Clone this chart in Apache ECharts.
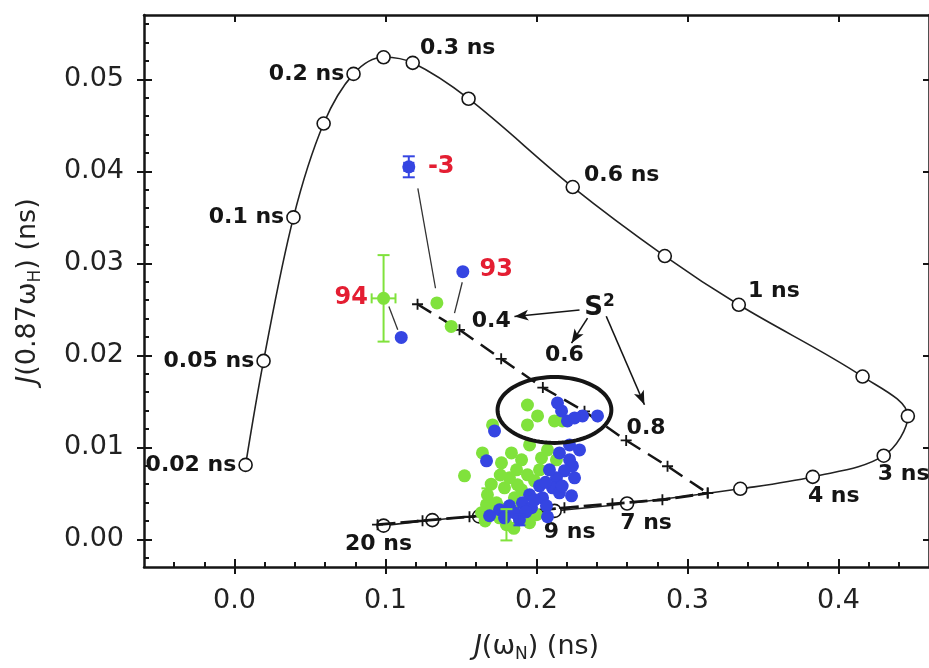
<!DOCTYPE html>
<html><head><meta charset="utf-8">
<script src="https://cdn.jsdelivr.net/npm/echarts@6/dist/echarts.min.js"></script>
<style>html,body{margin:0;padding:0;background:#fff}#c{width:929px;height:668px}</style>
</head><body><div id="c"></div>
<script>
// ---------- axis ticks ----------
const xMajorTicks = [0, 0.1, 0.2, 0.3, 0.4];
const xMinorTicks = [-0.04,-0.02,0.02,0.04,0.06,0.08,0.12,0.14,0.16,0.18,0.22,0.24,0.26,0.28,0.32,0.34,0.36,0.38,0.42,0.44];
const yMajorTicks = [0, 0.01, 0.02, 0.03, 0.04, 0.05];
const yMinorTicks = [-0.002,0.002,0.004,0.006,0.008,0.012,0.014,0.016,0.018,0.022,0.024,0.026,0.028,0.032,0.034,0.036,0.038,0.042,0.044,0.046,0.048,0.052,0.054,0.056];

// ---------- spectral density curve (rigid rotor, tau_c) ----------
const curvePts = [[0.0073,0.0081],[0.0192,0.0194],[0.0390,0.0350],[0.0590,0.0452],[0.0788,0.0506],[0.0987,0.0524],[0.1180,0.0518],[0.1550,0.0479],[0.2240,0.0383],[0.2850,0.0308],[0.3340,0.0255],[0.4160,0.0177],[0.4460,0.0134],[0.4300,0.0091],[0.3830,0.0068],[0.3350,0.0055],[0.2600,0.0039],[0.2120,0.0031],[0.1620,0.0025],[0.1310,0.0021],[0.0987,0.0015]];
const curveLabels = ['0.02 ns','0.05 ns','0.1 ns','','0.2 ns','','0.3 ns','','0.6 ns','','1 ns','','','3 ns','4 ns','','7 ns','9 ns','','','20 ns'];

// ---------- S2 lines ----------
const s2Pts = [[0.1212,0.02556],[0.1490,0.02278],[0.1766,0.01963],[0.2042,0.01650],[0.2318,0.01392],[0.2594,0.01076],[0.2868,0.00795],[0.3134,0.00503]];
const bottomPts = [[0.0947,0.00160],[0.1245,0.00203],[0.1556,0.00246],[0.1874,0.00300],[0.2185,0.00343],[0.2503,0.00387],[0.2834,0.00431],[0.3134,0.00503]];

// ---------- residues ----------
const greenPts = [[0.1340,0.0257],[0.1435,0.02315],[0.0987,0.0262],
 [0.1940,0.01461],[0.2007,0.01342],[0.1940,0.01244],[0.2119,0.01288],[0.1709,0.01244],[0.1954,0.01027],[0.1642,0.00940],[0.1523,0.00691],[0.1768,0.00832],[0.1901,0.00865],[0.2033,0.00886],[0.2132,0.00865],[0.1868,0.00756],[0.1940,0.00702],[0.1874,0.00594],[0.1987,0.00637],[0.1788,0.00561],[0.1675,0.00485],[0.1669,0.00377],[0.1636,0.00290],[0.1735,0.00398],[0.1854,0.00452],[0.1801,0.00159],[0.1954,0.00181],[0.1755,0.00235],[0.2172,0.01288],[0.1821,0.00669],[0.1901,0.00539],[0.2020,0.00756],[0.1834,0.00940],[0.1755,0.00344],[0.1702,0.00322],[0.1887,0.00322],[0.2000,0.00268],[0.2073,0.00973],
 [0.1700,0.00600],[0.1760,0.00700],[0.1660,0.00200],[0.1850,0.00120]];
const bluePts = [[0.1154,0.0405],[0.1104,0.02195],[0.1512,0.0291],
 [0.1722,0.01179],[0.1669,0.00854],[0.2219,0.00865],[0.2219,0.01027],[0.2238,0.00799],[0.2185,0.00745],[0.2132,0.00669],[0.2086,0.00756],[0.2020,0.00582],[0.2106,0.00561],[0.2040,0.00452],[0.1954,0.00485],[0.1907,0.00398],[0.1821,0.00365],[0.1755,0.00322],[0.1967,0.00344],[0.2066,0.00365],[0.2232,0.00474],[0.1887,0.00213],[0.2139,0.01483],[0.2166,0.01396],[0.2205,0.01288],[0.2305,0.01342],[0.2404,0.01342],[0.2252,0.01320],[0.2152,0.00940],[0.2252,0.00669],[0.2152,0.00506],[0.1854,0.00290],[0.1689,0.00257],[0.1987,0.00430],[0.2285,0.00973],[0.2073,0.00246],[0.1788,0.00235],
 [0.2060,0.00620],[0.2170,0.00580],[0.1930,0.00300]];
// [x, y, xErr, yErr]
const greenErr = [[0.0987,0.0262,0.0079,0.0047],[0.1801,0.00159,0,0.0017],[0.1675,0.00485,0,0.0007]];
const blueErr = [[0.1154,0.0405,0.003,0.00114],[0.1887,0.00213,0,0.0006]];
// pairs linking residues
const connectors = [[[0.1214,0.03815],[0.1331,0.02730]],[[0.1508,0.02795],[0.1457,0.02459]],[[0.1022,0.02531],[0.1081,0.02278]]];

// ---------- annotations ----------
const redLabels = [['-3',0.1369,0.0405],['94',0.0773,0.02622],['93',0.1733,0.02928]];
const s2Labels = [['S{sup|2}',0.2417,0.02511],['0.4',0.1700,0.02369],['0.6',0.2185,0.02003],['0.8',0.2726,0.01211]];
const arrows = [[[0.2285,0.02494],[0.1854,0.02422]],[[0.2338,0.02405],[0.2232,0.02133]],[[0.2462,0.02426],[0.2715,0.01464]]];
const ellipse = [[0.2119,0.01407,0.0377,0.00358]];

// ---------- styling ----------
const FONT = 'DejaVu Sans';
const INK = '#151515';
const GREEN = '#80E23C', BLUE = '#3545E2', RED = '#E41E32';
const X_MIN = -0.06, X_MAX = 0.46, Y_MIN = -0.003, Y_MAX = 0.057;
const curveLabelPlace = {
  '0.02 ns':{position:'left',distance:2,offset:[0,0]},
  '0.05 ns':{position:'left',distance:2,offset:[0,0]},
  '0.1 ns':{position:'left',distance:2,offset:[0,0]},
  '0.2 ns':{position:'left',distance:2,offset:[0,0]},
  '0.3 ns':{position:'right',distance:0,offset:[0,-15]},
  '0.6 ns':{position:'right',distance:4,offset:[0,-12]},
  '1 ns':{position:'right',distance:2,offset:[0,-14]},
  '3 ns':{position:'bottom',distance:2,offset:[20,-2]},
  '4 ns':{position:'bottom',distance:2,offset:[21,-1]},
  '7 ns':{position:'bottom',distance:2,offset:[19,-1]},
  '9 ns':{position:'bottom',distance:2,offset:[15,1]},
  '20 ns':{position:'bottom',distance:2,offset:[-5,-2]}
};
const boldText = {fontFamily:FONT, fontWeight:'bold', fontSize:22, color:INK};

function xAx(extra){ return Object.assign({type:'value',min:X_MIN,max:X_MAX,splitLine:{show:false},axisLabel:{show:false},axisLine:{show:false,onZero:false}}, extra); }
function yAx(extra){ return Object.assign({type:'value',min:Y_MIN,max:Y_MAX,splitLine:{show:false},axisLabel:{show:false},axisLine:{show:false,onZero:false}}, extra); }
const lineSt = {color:INK,width:2.5};
const tickSt = {color:INK,width:2};

const nameRich = {
  i:{fontFamily:FONT,fontSize:27,fontStyle:'italic',color:'#222'},
  n:{fontFamily:FONT,fontSize:27,color:'#222'},
  sub:{fontFamily:FONT,fontSize:17,color:'#222',padding:[16,0,0,0]}
};

function errRender(color){
  return function(params, api){
    const x=api.value(0), y=api.value(1), ex=api.value(2), ey=api.value(3);
    const ch=[]; const st={stroke:color,lineWidth:2};
    if (ey>0){
      const a=api.coord([x,y-ey]), b=api.coord([x,y+ey]);
      ch.push({type:'line',shape:{x1:a[0],y1:a[1],x2:b[0],y2:b[1]},style:st});
      ch.push({type:'line',shape:{x1:a[0]-6,y1:a[1],x2:a[0]+6,y2:a[1]},style:st});
      ch.push({type:'line',shape:{x1:b[0]-6,y1:b[1],x2:b[0]+6,y2:b[1]},style:st});
    }
    if (ex>0){
      const a=api.coord([x-ex,y]), b=api.coord([x+ex,y]);
      ch.push({type:'line',shape:{x1:a[0],y1:a[1],x2:b[0],y2:b[1]},style:st});
      ch.push({type:'line',shape:{x1:a[0],y1:a[1]-5,x2:a[0],y2:a[1]+5},style:st});
      ch.push({type:'line',shape:{x1:b[0],y1:b[1]-5,x2:b[0],y2:b[1]+5},style:st});
    }
    return {type:'group',children:ch};
  };
}
const PLUS = 'path://M-1,-6L1,-6L1,-1L6,-1L6,1L1,1L1,6L-1,6L-1,1L-6,1L-6,-1L-1,-1Z';
const HIDDEN = {color:'rgba(0,0,0,0)',opacity:1};

const chart = echarts.init(document.getElementById('c'));
chart.setOption({
  animation:false,
  backgroundColor:'#fff',
  grid:{left:144,right:-2,top:15,bottom:98,containLabel:false},
  xAxis:[
    xAx({position:'bottom',axisLine:{show:true,onZero:false,lineStyle:lineSt},
      axisTick:{show:true,inside:true,length:8,lineStyle:tickSt,customValues:xMajorTicks},
      axisLabel:{show:true,customValues:xMajorTicks,formatter:v=>v.toFixed(1),fontFamily:FONT,fontSize:27,color:'#222',margin:20},
      name:'{i|J}{n|(ω}{sub|N}{n|) (ns)}',nameLocation:'middle',nameGap:63,nameTextStyle:{rich:nameRich}}),
    xAx({position:'bottom',axisTick:{show:true,inside:false,length:7,lineStyle:tickSt,customValues:xMajorTicks}}),
    xAx({position:'bottom',axisTick:{show:true,inside:true,length:5,lineStyle:tickSt,customValues:xMinorTicks}}),
    xAx({position:'top',axisLine:{show:true,onZero:false,lineStyle:lineSt},axisTick:{show:true,inside:true,length:7,lineStyle:tickSt,customValues:xMajorTicks}})
  ],
  yAxis:[
    yAx({position:'left',axisLine:{show:true,onZero:false,lineStyle:lineSt},
      axisTick:{show:true,inside:true,length:8,lineStyle:tickSt,customValues:yMajorTicks},
      axisLabel:{show:true,customValues:yMajorTicks,formatter:v=>v.toFixed(2),fontFamily:FONT,fontSize:27,color:'#222',margin:20},
      name:'{i|J}{n|(0.87ω}{sub|H}{n|) (ns)}',nameLocation:'middle',nameGap:100,nameRotate:90,nameTextStyle:{rich:nameRich}}),
    yAx({position:'left',axisTick:{show:true,inside:false,length:7,lineStyle:tickSt,customValues:yMajorTicks}}),
    yAx({position:'left',axisTick:{show:true,inside:true,length:5,lineStyle:tickSt,customValues:yMinorTicks}}),
    yAx({position:'right',axisLine:{show:true,onZero:false,lineStyle:lineSt},axisTick:{show:true,inside:true,length:6,lineStyle:tickSt,customValues:yMajorTicks}})
  ],
  series:[
    {type:'line',name:'curve',z:2,smooth:0.35,symbol:'circle',symbolSize:13,
     lineStyle:{color:'#222',width:1.6},itemStyle:{color:'#fff',borderColor:INK,borderWidth:1.6},
     data:curvePts.map((p,i)=>{
       const t=curveLabels[i];
       if(!t) return {value:p,label:{show:false}};
       const pl=curveLabelPlace[t];
       return {value:p,label:Object.assign({show:true,formatter:t},pl,boldText)};
     })},
    {type:'line',name:'bottom',z:3,symbol:PLUS,symbolSize:11,itemStyle:{color:INK},
     lineStyle:{color:INK,width:2.8,type:[18,5]},data:bottomPts},
    {type:'line',name:'s2',z:3,symbol:PLUS,symbolSize:11,itemStyle:{color:INK},
     lineStyle:{color:INK,width:2.5,type:[16,9]},data:s2Pts},
    {type:'scatter',name:'green',z:4,symbolSize:13,itemStyle:{color:GREEN,opacity:1},data:greenPts,
     markLine:{silent:true,symbol:['none','none'],label:{show:false},lineStyle:{color:'#333',width:1.3,type:'solid',opacity:1},
       data:connectors.map(c=>[{coord:c[0]},{coord:c[1]}])}},
    {type:'scatter',name:'blue',z:5,symbolSize:13,itemStyle:{color:BLUE,opacity:1},data:bluePts},
    {type:'custom',name:'gErr',z:6,renderItem:errRender(GREEN),data:greenErr,encode:{x:0,y:1}},
    {type:'custom',name:'bErr',z:6,renderItem:errRender(BLUE),data:blueErr,encode:{x:0,y:1}},
    {type:'custom',name:'ellipse',z:7,data:ellipse,encode:{x:0,y:1},
     renderItem:function(params,api){
       const c=api.coord([api.value(0),api.value(1)]);
       const s=api.size([api.value(2),api.value(3)]);
       const pts=[];
       for(let k=0;k<=96;k++){const t=k/96*2*Math.PI;pts.push([c[0]+s[0]*Math.cos(t),c[1]+s[1]*Math.sin(t)]);}
       return {type:'polygon',shape:{points:pts},style:{fill:'none',stroke:INK,lineWidth:4}};
     }},
    {type:'scatter',name:'redLabels',z:8,symbolSize:1,itemStyle:HIDDEN,
     label:{show:true,position:'inside',fontFamily:FONT,fontWeight:'bold',fontSize:24,color:RED,opacity:1},
     data:redLabels.map(r=>({value:[r[1],r[2]],label:{formatter:r[0]}}))},
    {type:'scatter',name:'s2Labels',z:8,symbolSize:1,itemStyle:HIDDEN,
     label:{show:true,position:'inside',fontFamily:FONT,fontWeight:'bold',fontSize:22,color:INK,opacity:1,
       rich:{sup:{fontFamily:FONT,fontWeight:'bold',fontSize:17,color:INK,padding:[0,0,14,0]}}},
     data:s2Labels.map((r,i)=>({value:[r[1],r[2]],label:{formatter:r[0],fontSize:i===0?26:22}})),
     markLine:{silent:true,symbol:['none','arrow'],symbolSize:[8,14],label:{show:false},lineStyle:{color:INK,width:1.6,type:'solid',opacity:1},
       data:arrows.map(a=>[{coord:a[0]},{coord:a[1]}])}}
  ]
});
</script></body></html>
